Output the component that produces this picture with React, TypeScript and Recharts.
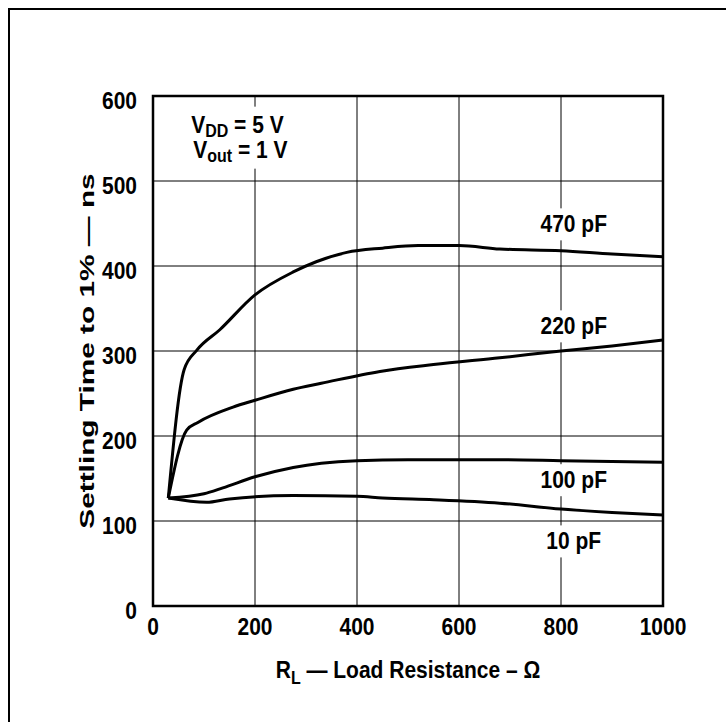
import { LineChart, Line, XAxis, YAxis, CartesianGrid, ReferenceArea, ReferenceDot, Label } from "recharts";

const xTicks = [0, 200, 400, 600, 800, 1000];
const yTicks = [0, 100, 200, 300, 400, 500, 600];

// load resistance (ohm) / settling time (ns)
const r470 = [30, 61, 86, 131, 200, 275, 320, 380, 450, 520, 600, 680, 800, 900, 1000];
const t470 = [127, 278, 301, 325, 366, 393, 405, 416, 421, 424, 424, 420, 418, 414, 411];
const r220 = [30, 66, 88, 157, 200, 275, 330, 445, 550, 680, 800, 900, 1000];
const t220 = [127, 207, 216, 234, 242, 255, 262, 276, 284, 292, 300, 306, 313];
const r100 = [30, 100, 137, 200, 275, 330, 400, 500, 600, 680, 800, 1000];
const t100 = [127, 132, 139, 152, 163, 168, 171, 172, 172, 172, 171, 169];
const r10 = [30, 105, 150, 275, 400, 450, 550, 680, 800, 900, 1000];
const t10 = [127, 122, 126, 130, 129, 127, 125, 121, 114, 110, 107];

const curveNames = ["470 pF", "220 pF", "100 pF", "10 pF"];
const labelR = [825, 825, 825, 825];
const labelT = [449, 329, 148, 76];

const toPoints = (rs: number[], ts: number[]) => rs.map((r, i) => ({ r, t: ts[i] }));
const curves = [
  toPoints(r470, t470),
  toPoints(r220, t220),
  toPoints(r100, t100),
  toPoints(r10, t10),
];

const font = "'Liberation Sans', Arial, Helvetica, sans-serif";
const FS = 21;
const SY = 1.1; // source type is a bit taller than plain Arial

// horizontal text, stretched a little vertically around its baseline
const T = (props: { x: number; y: number; anchor?: string; children: any }) => (
  <text
    transform={`translate(${props.x},${props.y}) scale(1,${SY})`}
    x={0}
    y={0}
    textAnchor={props.anchor || "start"}
    fontFamily={font}
    fontWeight="bold"
    fontSize={FS}
    fill="#000"
  >
    {props.children}
  </text>
);

const labelShape = (text: string) => (p: any) => (
  <g>
    <rect x={p.cx - 40} y={p.cy - 16} width={80} height={32} fill="#fff" />
    <T x={p.cx} y={p.cy + 8} anchor="middle">{text}</T>
  </g>
);

const condShape = (p: any) => (
  <g>
    <rect x={p.cx - 52} y={p.cy - 31} width={106} height={62} fill="#fff" />
    <T x={p.cx - 48} y={p.cy - 5}>
      V<tspan fontSize={16} dy={4}>DD</tspan>
      <tspan dy={-4}>{" = 5 V"}</tspan>
    </T>
    <T x={p.cx - 46} y={p.cy + 20}>
      V<tspan fontSize={16} dy={4}>out</tspan>
      <tspan dy={-4}>{" = 1 V"}</tspan>
    </T>
  </g>
);

const XTick = (p: any) => <T x={p.x} y={p.y + 29} anchor="middle">{p.payload.value}</T>;

const YTick = (p: any) => <T x={p.x} y={p.y + 13} anchor="end">{p.payload.value}</T>;

const xTitle = (p: any) => {
  const vb = p.viewBox;
  return (
    <T x={vb.x + vb.width / 2} y={vb.y + 72} anchor="middle">
      R<tspan fontSize={16} dy={5}>L</tspan>
      <tspan dy={-5}>{" \u2014 Load Resistance \u2013 \u03A9"}</tspan>
    </T>
  );
};

const yTitle = (p: any) => {
  const vb = p.viewBox;
  const x = vb.x + 21;
  const y = vb.y + vb.height / 2;
  return (
    <text
      transform={`translate(${x},${y}) rotate(-90) scale(1.42,1)`}
      x={0}
      y={0}
      textAnchor="middle"
      fontFamily={font}
      fontWeight="bold"
      fontSize={FS}
      fill="#000"
    >
      {"Settling Time to 1% \u2014 ns"}
    </text>
  );
};

export default function App() {
  return (
    <div style={{ position: "absolute", left: 0, top: 0, width: 726, height: 722, background: "#fff", overflow: "hidden" }}>
      <div
        style={{
          position: "absolute",
          left: 8,
          top: 8,
          width: 800,
          height: 800,
          borderTop: "2px solid #000",
          borderLeft: "2px solid #000",
        }}
      />
      <div style={{ position: "absolute", left: 0, top: 0 }}>
        <LineChart width={726} height={722} margin={{ top: 96, right: 63, bottom: 36, left: 73 }}>
          <CartesianGrid stroke="#000" strokeWidth={1} horizontalValues={yTicks} verticalValues={xTicks} />
          <XAxis
            type="number"
            dataKey="r"
            domain={[0, 1000]}
            ticks={xTicks}
            height={80}
            axisLine={false}
            tickLine={false}
            tickSize={0}
            tickMargin={0}
            tick={XTick}
            allowDuplicatedCategory={false}
          >
            <Label content={xTitle} />
          </XAxis>
          <YAxis
            type="number"
            domain={[0, 600]}
            ticks={yTicks}
            width={80}
            axisLine={false}
            tickLine={false}
            tickSize={0}
            tickMargin={16}
            tick={YTick}
          >
            <Label content={yTitle} />
          </YAxis>
          <ReferenceArea x1={0} x2={1000} y1={0} y2={600} fill="none" stroke="#000" strokeWidth={2.5} />
          {curves.map((data, i) => (
            <Line
              key={curveNames[i]}
              data={data}
              dataKey="t"
              type="monotone"
              stroke="#000"
              strokeWidth={3}
              dot={false}
              activeDot={false}
              isAnimationActive={false}
            />
          ))}
          {curveNames.map((name, i) => (
            <ReferenceDot key={name} x={labelR[i]} y={labelT[i]} r={0} shape={labelShape(name)} />
          ))}
          <ReferenceDot x={169} y={551} r={0} shape={condShape} />
        </LineChart>
      </div>
    </div>
  );
}
